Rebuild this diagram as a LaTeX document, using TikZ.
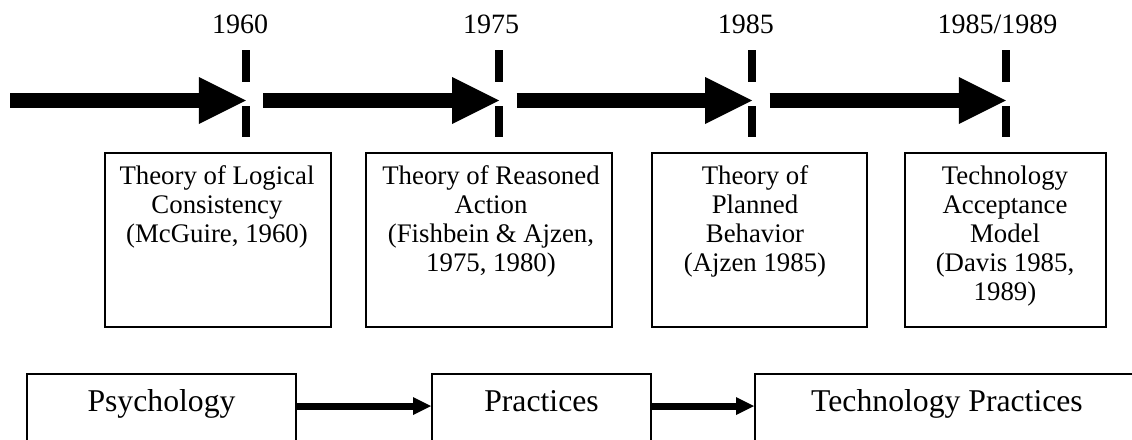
\documentclass[tikz,border=0pt]{standalone}
\usepackage{fontspec}
\setmainfont{Liberation Serif}
\usetikzlibrary{arrows.meta}
\begin{document}
\begin{tikzpicture}[x=1pt,y=-1pt,
  timeline/.style={line width=15pt,
    -{Triangle[length=47pt,width=47pt,line width=0pt]}},
  yeartick/.style={line width=7.5pt},
  yearlabel/.style={font=\fontsize{28}{30}\selectfont, inner sep=0pt, anchor=base},
  theorybox/.style={draw, line width=1.6pt, minimum height=174.4pt, inner sep=0pt},
  theorytext/.style={font=\fontsize{26.8}{29}\selectfont, align=center,
    inner sep=0pt, anchor=north},
  areabox/.style={draw, line width=1.6pt, inner sep=0pt, anchor=base,
    text height=37pt, text depth=37pt, font=\fontsize{31.7}{34}\selectfont},
  flow/.style={line width=7pt, -{Triangle[length=18pt,width=18pt,line width=0pt]}}
]
\useasboundingbox (0,0) rectangle (1132,439);

% timeline: year marks and the arrows between them
\coordinate (t0) at (10,100.5);
\coordinate (t1) at (245.8,100.5);
\coordinate (t2) at (499,100.5);
\coordinate (t3) at (752.2,100.5);
\coordinate (t4) at (1005.8,100.5);

\draw[timeline] (t0) -- (t1);
\draw[timeline] ([xshift=17.5pt]t1) -- (t2);
\draw[timeline] ([xshift=17.5pt]t2) -- (t3);
\draw[timeline] ([xshift=17.5pt]t3) -- (t4);

\foreach \t in {t1,t2,t3,t4}{
  \draw[yeartick] ([yshift=50.5pt]\t) -- ([yshift=18.5pt]\t);
  \draw[yeartick] ([yshift=-5.5pt]\t) -- ([yshift=-36.8pt]\t);
}

\node[yearlabel] (y1) at (240,33) {1960};
\node[yearlabel] (y2) at (491,33) {1975};
\node[yearlabel] (y3) at (745.8,33) {1985};
\node[yearlabel] (y4) at (997.5,33) {1985/1989};

% theory boxes
\node[theorybox, minimum width=226.4pt] (b1) at (218,240) {};
\node[theorybox, minimum width=246.4pt] (b2) at (489,240) {};
\node[theorybox, minimum width=215.4pt] (b3) at (759.5,240) {};
\node[theorybox, minimum width=201.4pt] (b4) at (1005.5,240) {};

\node[theorytext] (l1) at (217,165.5) {Theory of Logical\\Consistency\\(McGuire, 1960)};
\node[theorytext] (l2) at (491,165.5) {Theory of Reasoned\\Action\\(Fishbein \& Ajzen,\\1975, 1980)};
\node[theorytext] (l3) at (755,165.5) {Theory of\\Planned\\Behavior\\(Ajzen 1985)};
\node[theorytext] (l4) at (1005,165.5) {Technology\\Acceptance\\Model\\(Davis 1985,\\1989)};

% fields of practice (boxes run on below the lower edge)
\node[areabox, minimum width=269.4pt] (psy) at (161.5,411) {Psychology};
\node[areabox, minimum width=219.4pt] (prac) at (541.5,411) {Practices};
\node[areabox, minimum width=384.4pt] (tech) at (947,411) {Technology Practices};

\draw[flow] ([yshift=5pt]psy.east) -- ([yshift=5pt]prac.west);
\draw[flow] ([yshift=5pt]prac.east) -- ([yshift=5pt]tech.west);
\end{tikzpicture}
\end{document}
